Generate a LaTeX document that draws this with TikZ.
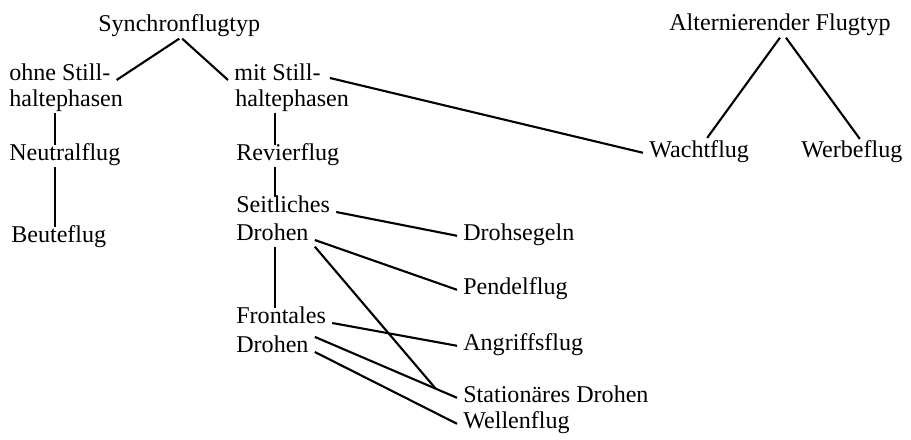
\documentclass[tikz,border=0pt]{standalone}
\usepackage{fontspec}
\setmainfont{Liberation Serif}
\usetikzlibrary{calc}

\begin{document}
\begin{tikzpicture}[
  x=0.02cm, y=-0.02cm,
  font=\fontsize{13.7pt}{16pt}\selectfont,
  line width=1.2pt,
  lab/.style={anchor=base west,inner xsep=3pt,inner ysep=1pt,text height=0.7em,text depth=0.22em}
]
\useasboundingbox (0,0) rectangle (911,439);
\foreach \nm/\x/\y/\txt in {sync/92/32/Synchronflugtyp, alt/663/31/Alternierender Flugtyp,
  ohne1/3/80/ohne Still-, ohne2/3/106/haltephasen, mit1/228/80/mit Still-, mit2/229/106/haltephasen,
  neutral/3/160/Neutralflug, beute/5/242/Beuteflug, revier/230/160/Revierflug,
  seit1/230/212/Seitliches, seit2/230/240/Drohen, front1/230/323/Frontales, front2/230/352/Drohen,
  wacht/643/157/Wachtflug, werbe/795/157/Werbeflug, segeln/457/240/Drohsegeln,
  pendel/457/294/Pendelflug, angriff/457/350/Angriffsflug, stat/457/402/Stationäres Drohen,
  wellen/457/428/Wellenflug}{
  \node[lab] (\nm) at (\x,\y) {\txt};
}
\coordinate (lstem) at ($(ohne2.south west)+(52,0)$);
\coordinate (rstem) at ($(mit2.south west)+(46,0)$);
\draw (lstem) -- (lstem |- neutral.north);
\draw (lstem |- neutral.south) -- (lstem |- beute.north);
\draw (rstem) -- (rstem |- revier.north);
\draw (rstem |- revier.south) -- (rstem |- seit1.north);
\draw (rstem |- seit2.south) -- (rstem |- front1.north);
\draw (sync.south) -- (ohne1.base east);
\draw ($(sync.south)+(3,0)$) -- (mit1.base west);
\draw ($(mit1.base east)+(3,-2)$) -- (wacht.west);
\draw (alt.south) -- ($(wacht.north)+(8,-4)$);
\draw ($(alt.south)+(6,0)$) -- ($(werbe.north)+(8,-3)$);
\path (front2.north east) -- (stat.west) coordinate[pos=0.85] (meet);
\draw (seit1.base east) -- (segeln.west);
\draw (seit2.base east) -- (pendel.west);
\draw (seit2.south east) -- (meet);
\draw (front1.base east) -- (angriff.west);
\draw (front2.north east) -- (stat.west);
\draw (front2.base east) -- (wellen.west);
\end{tikzpicture}
\end{document}
